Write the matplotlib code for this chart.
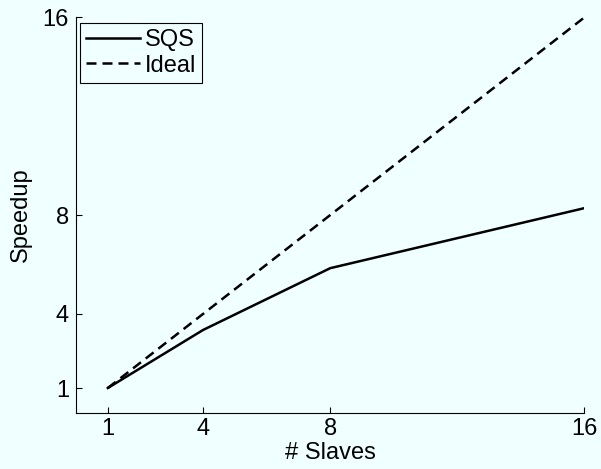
import numpy as np
import matplotlib
matplotlib.use("Agg")
import matplotlib.pyplot as plt

plt.rcParams['font.family'] = ['Liberation Sans', 'DejaVu Sans']

slaves = [1, 4, 8, 16]
sqs_speedup = [1, 3.35, 5.85, 8.28]
ideal_speedup = [1, 4, 8, 16]
bg = '#f0ffff'
fs = 17

fig = plt.figure(figsize=(6.01, 4.69), dpi=100, facecolor=bg)
ax = fig.add_axes([0.1265, 0.12, 0.846, 0.843], facecolor=bg)

ax.plot(slaves, sqs_speedup, color='black', lw=1.8, label='SQS')
ax.plot(slaves, ideal_speedup, color='black', lw=1.8, ls=(0, (4, 2.4)), label='Ideal')

ax.set_xlim(0, 16)
ax.set_ylim(0, 16)
ax.set_xticks(slaves)
ax.set_yticks([1, 4, 8, 16])
ax.tick_params(direction='in', labelsize=fs, length=4, width=0.8, pad=5)
ax.tick_params(axis='x', pad=4)
for s in ['top', 'right']:
    ax.spines[s].set_visible(False)
ax.set_xlabel('# Slaves', fontsize=fs, labelpad=1)
ax.set_ylabel('Speedup', fontsize=fs, labelpad=8)

leg = ax.legend(loc='upper left', fontsize=fs, fancybox=False, framealpha=1,
                edgecolor='black', facecolor=bg, handlelength=2.3,
                handletextpad=0.2, borderpad=0.25, labelspacing=0.15,
                borderaxespad=0, bbox_to_anchor=(0.008, 0.985))
leg.get_frame().set_linewidth(0.8)

fig.savefig('out.png', dpi=100, facecolor=bg)
